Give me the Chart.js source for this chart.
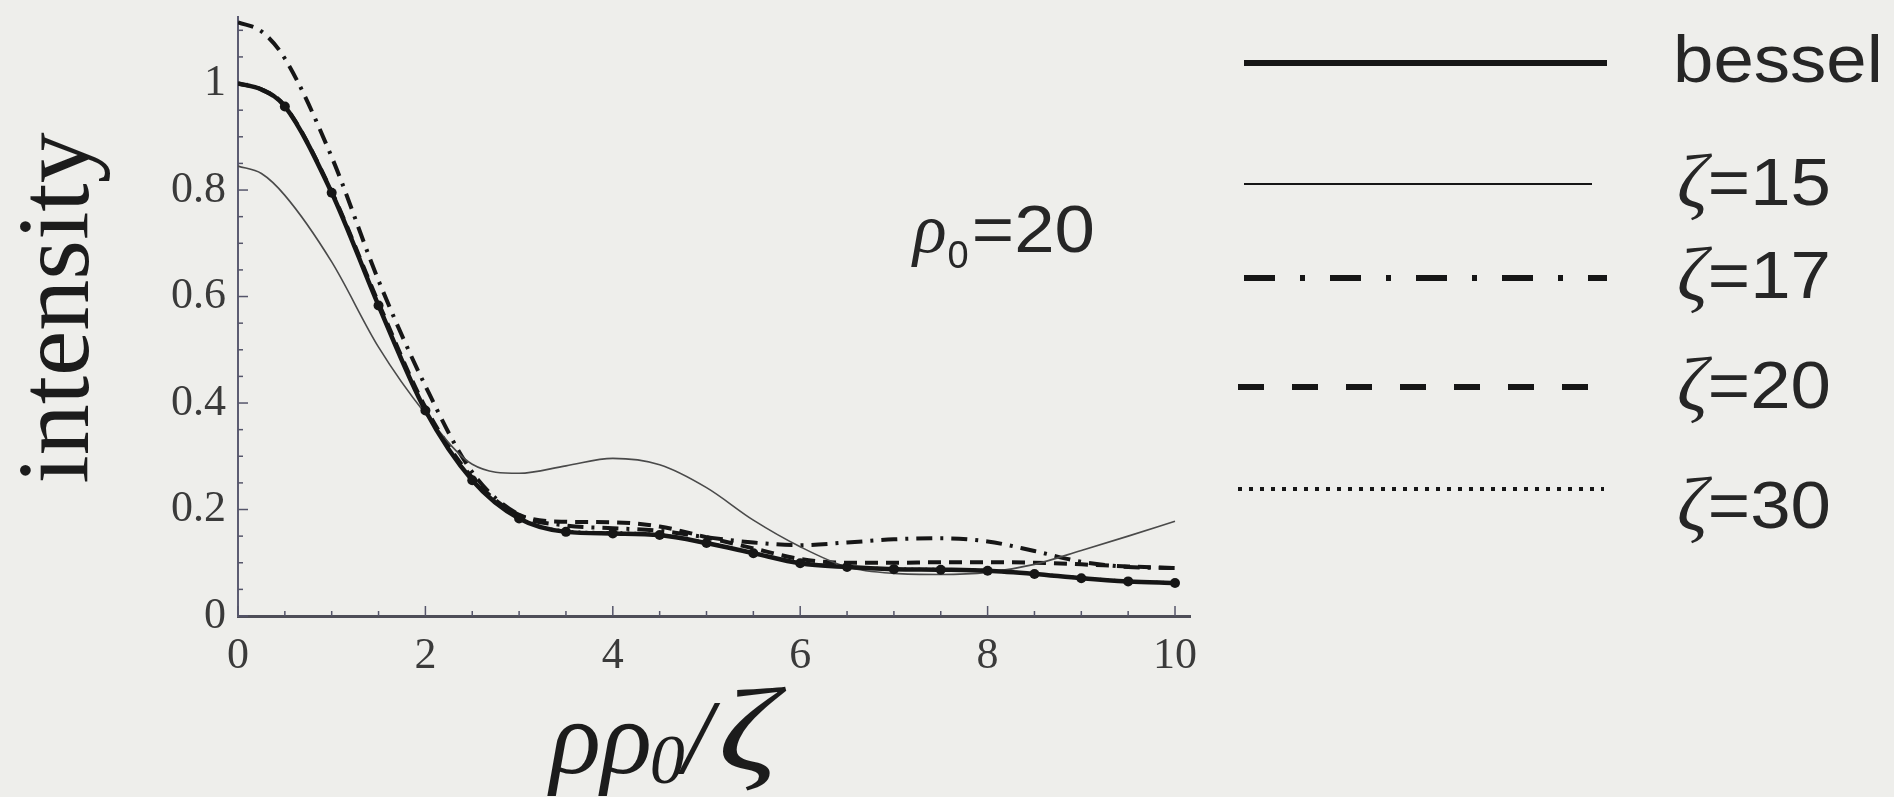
<!DOCTYPE html>
<html>
<head>
<meta charset="utf-8">
<script src="https://cdn.jsdelivr.net/npm/chart.js@4.4.1/dist/chart.umd.min.js"></script>
<style>
  html, body { margin: 0; padding: 0; background: #eeeeeb; }
  #wrap { width: 1894px; height: 797px; position: relative; }
</style>
</head>
<body>
<div id="wrap"><canvas id="c"></canvas></div>
<script>
// radial coordinate rho*rho0/zeta
const xs = [0, 0.25, 0.5, 1, 1.5, 2, 2.5, 3, 3.5, 4, 4.5, 5, 5.5, 6, 6.5, 7, 7.5, 8, 8.5, 9, 9.5, 10];

// intensity profiles
const bessel = [1.0, 0.989, 0.957, 0.795, 0.583, 0.386, 0.255, 0.183, 0.158, 0.155, 0.152, 0.137, 0.118, 0.099, 0.092, 0.088, 0.087, 0.085, 0.079, 0.071, 0.065, 0.062];
const zeta15 = [0.845, 0.831, 0.79, 0.665, 0.505, 0.38, 0.285, 0.268, 0.282, 0.296, 0.284, 0.241, 0.18, 0.13, 0.092, 0.08, 0.078, 0.082, 0.097, 0.123, 0.15, 0.178];
const zeta17 = [1.115, 1.098, 1.047, 0.862, 0.63, 0.432, 0.27, 0.19, 0.17, 0.165, 0.16, 0.148, 0.138, 0.133, 0.138, 0.144, 0.146, 0.14, 0.122, 0.102, 0.092, 0.09];
const zeta20 = [1.0, 0.989, 0.958, 0.797, 0.588, 0.392, 0.26, 0.19, 0.177, 0.176, 0.168, 0.148, 0.127, 0.107, 0.1, 0.1, 0.101, 0.101, 0.1, 0.097, 0.093, 0.09];
const zeta30 = [1.0, 0.989, 0.958, 0.797, 0.586, 0.388, 0.256, 0.184, 0.16, 0.157, 0.153, 0.138, 0.119, 0.1, 0.093, 0.089, 0.088, 0.086, 0.08, 0.072, 0.066, 0.063];

const seriesNames = ['bessel', 'ζ=15', 'ζ=17', 'ζ=20', 'ζ=30'];
const xTickValues = [0, 2, 4, 6, 8, 10];
const yTickValues = [0, 0.2, 0.4, 0.6, 0.8, 1];

const INK = '#161616';
const pts = arr => xs.map((x, i) => ({ x: x, y: arr[i] }));

// small inward tick marks along both axes
const innerTicks = {
  id: 'innerTicks',
  beforeDatasetsDraw(chart) {
    const { ctx, chartArea: a, scales: { x, y } } = chart;
    ctx.save();
    ctx.strokeStyle = '#55556a';
    ctx.lineWidth = 1.5;
    for (let k = 0; k <= 22; k++) {
      const py = y.getPixelForValue(k * 0.05);
      const len = (k % 4 === 0) ? 10 : 5;
      ctx.beginPath(); ctx.moveTo(a.left, py); ctx.lineTo(a.left + len, py); ctx.stroke();
    }
    for (let k = 0; k <= 20; k++) {
      const px = x.getPixelForValue(k * 0.5);
      const len = (k % 4 === 0) ? 10 : 5;
      ctx.beginPath(); ctx.moveTo(px, a.bottom); ctx.lineTo(px, a.bottom - len); ctx.stroke();
    }
    ctx.restore();
  }
};

// sans text drawn slightly widened
function wideText(ctx, s, x, y, stretch) {
  ctx.save();
  ctx.translate(x, y);
  ctx.scale(stretch, 1);
  ctx.fillText(s, 0, 0);
  const w = ctx.measureText(s).width * stretch;
  ctx.restore();
  return w;
}

// legend column, parameter note and axis titles
const sideText = {
  id: 'sideText',
  afterDraw(chart, args, opts) {
    const ctx = chart.ctx;
    ctx.save();
    ctx.textBaseline = 'alphabetic';
    ctx.textAlign = 'left';
    opts.rows.forEach((r, i) => {
      ctx.beginPath();
      ctx.setLineDash(r.dash);
      ctx.lineWidth = r.width;
      ctx.strokeStyle = INK;
      ctx.moveTo(r.x0, r.y); ctx.lineTo(r.x1, r.y);
      ctx.stroke();
      ctx.setLineDash([]);
      const name = chart.data.datasets[i].label;
      ctx.fillStyle = '#262626';
      let tx = r.tx;
      if (name.startsWith('ζ')) {
        ctx.font = 'italic 76px "Liberation Serif"';
        tx += wideText(ctx, 'ζ', tx, r.base + 2, 1.0);
        ctx.font = '66px "Liberation Sans"';
        wideText(ctx, name.slice(1), tx, r.base, 1.1);
      } else {
        ctx.font = '66px "Liberation Sans"';
        wideText(ctx, name, tx, r.base, 1.1);
      }
    });

    // rho_0 = 20
    ctx.fillStyle = '#262626';
    let x = 913;
    ctx.font = 'italic 70px "Liberation Serif"';
    x += wideText(ctx, 'ρ', x, 252, 1.0) + 1;
    ctx.font = '38px "Liberation Sans"';
    x += wideText(ctx, '0', x, 268, 1.0) + 3;
    ctx.font = '66px "Liberation Sans"';
    wideText(ctx, '=20', x, 252, 1.1);

    // y-axis title
    ctx.fillStyle = '#1c1c1c';
    ctx.save();
    ctx.translate(88, 308);
    ctx.rotate(-Math.PI / 2);
    ctx.textAlign = 'center';
    ctx.font = '102px "Liberation Serif"';
    ctx.fillText('intensity', 0, 0);
    ctx.restore();

    // x-axis title
    x = 550;
    ctx.font = 'italic 106px "Liberation Serif"';
    x += wideText(ctx, 'ρρ', x, 773, 1.0);
    ctx.font = 'italic 70px "Liberation Serif"';
    x += wideText(ctx, '0', x - 2, 783, 1.0);
    ctx.font = 'italic 106px "Liberation Serif"';
    x += wideText(ctx, '/', x - 4, 773, 1.0) + 2;
    ctx.font = 'italic 118px "Liberation Serif"';
    wideText(ctx, 'ζ', x, 770, 1.25);
    ctx.restore();
  }
};

new Chart(document.getElementById('c'), {
  type: 'line',
  data: {
    datasets: [
      { label: seriesNames[0], data: pts(bessel), borderColor: INK, borderWidth: 4.5,
        pointRadius: c => { const v = xs[c.dataIndex]; return (v > 0 && v % 0.5 === 0) ? 5 : 0; },
        pointBackgroundColor: INK, pointBorderWidth: 0 },
      { label: seriesNames[1], data: pts(zeta15), borderColor: '#4a4a4a', borderWidth: 1.6, pointRadius: 0 },
      { label: seriesNames[2], data: pts(zeta17), borderColor: INK, borderWidth: 4, borderDash: [16, 8, 3, 8], pointRadius: 0 },
      { label: seriesNames[3], data: pts(zeta20), borderColor: INK, borderWidth: 4, borderDash: [13, 8], pointRadius: 0 },
      { label: seriesNames[4], data: pts(zeta30), borderColor: INK, borderWidth: 2.5, borderDash: [2, 5], pointRadius: 0 }
    ]
  },
  options: {
    responsive: true,
    maintainAspectRatio: false,
    animation: false,
    devicePixelRatio: 1,
    layout: { padding: { left: 0, top: 17, right: 704, bottom: 0 } },
    plugins: {
      legend: { display: false },
      tooltip: { enabled: false },
      sideText: {
        rows: [
          { y: 63,  x0: 1244, x1: 1607, width: 6, dash: [],              tx: 1673, base: 82 },
          { y: 184, x0: 1244, x1: 1592, width: 2, dash: [],              tx: 1677, base: 205 },
          { y: 278, x0: 1244, x1: 1607, width: 6, dash: [31, 25, 5, 25], tx: 1677, base: 298 },
          { y: 387, x0: 1238, x1: 1600, width: 6, dash: [26, 28],        tx: 1677, base: 408 },
          { y: 489, x0: 1238, x1: 1604, width: 4, dash: [4, 7],          tx: 1677, base: 528 }
        ]
      }
    },
    elements: { line: { tension: 0.4, cubicInterpolationMode: 'monotone' } },
    scales: {
      x: {
        type: 'linear', min: 0, max: 10.16,
        afterBuildTicks: s => { s.ticks = xTickValues.map(v => ({ value: v })); },
        afterFit: s => { s.height = 181; s.paddingLeft = 0; s.paddingRight = 0; },
        grid: { display: false, drawTicks: false },
        border: { display: true, color: '#4e4e58', width: 3 },
        ticks: { font: { family: 'Liberation Serif', size: 44 }, color: '#3a3a3a', padding: 14,
                 maxRotation: 0, autoSkip: false, callback: v => String(v) }
      },
      y: {
        type: 'linear', min: 0, max: 1.125,
        afterBuildTicks: s => { s.ticks = yTickValues.map(v => ({ value: v })); },
        afterFit: s => { s.width = 238; s.paddingTop = 0; s.paddingBottom = 0; },
        grid: { display: false, drawTicks: false },
        border: { display: true, color: '#5c5c72', width: 2 },
        ticks: { font: { family: 'Liberation Serif', size: 44 }, color: '#3a3a3a', padding: 12,
                 autoSkip: false, callback: v => String(v) }
      }
    }
  },
  plugins: [innerTicks, sideText]
});
</script>
</body>
</html>
